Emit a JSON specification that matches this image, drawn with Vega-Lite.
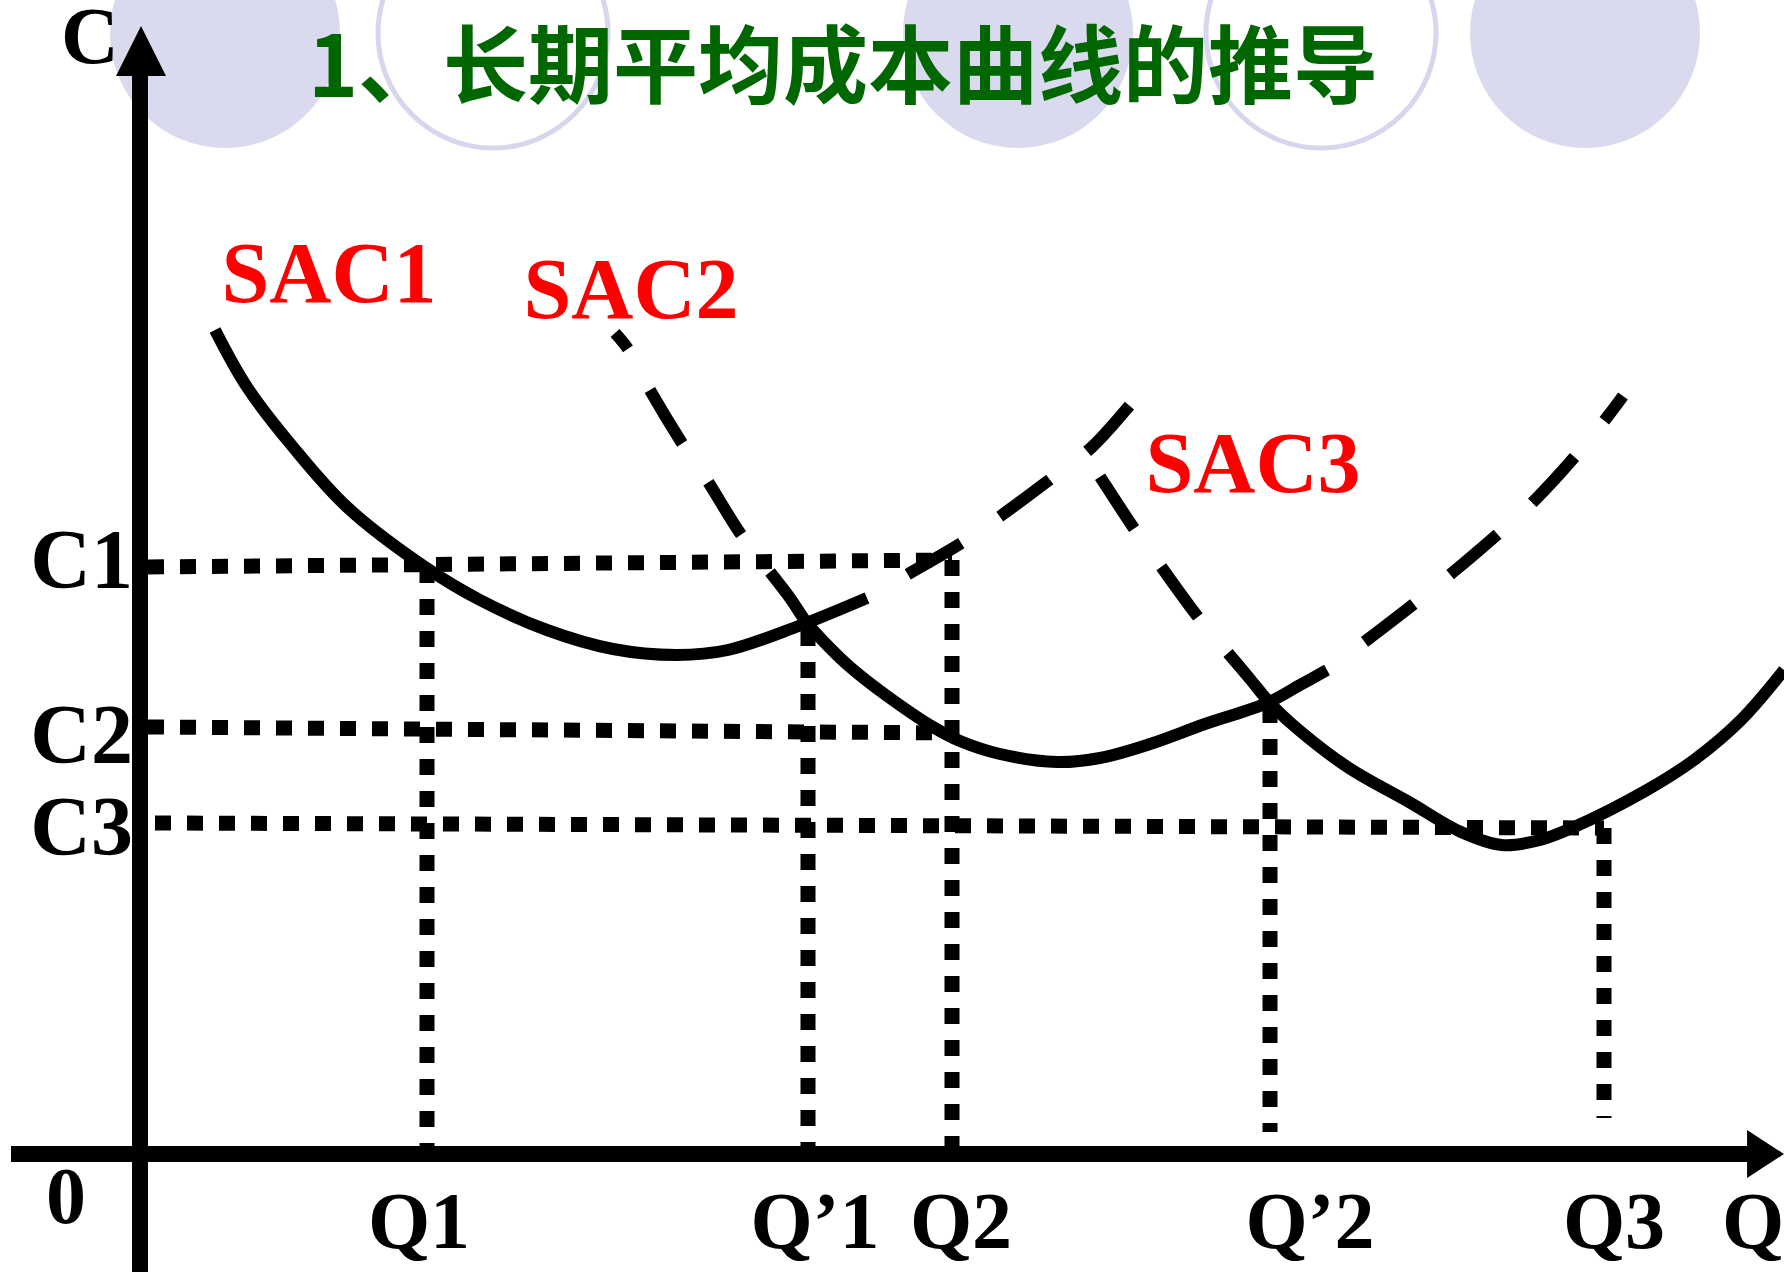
{
  "$schema": "https://vega.github.io/schema/vega-lite/v6.json",
  "autosize": {"type": "none"},
  "width": 1784,
  "height": 1272,
  "padding": 0,
  "background": "white",
  "config": {"view": {"stroke": null}},
  "datasets": {
    "circles_filled": [
      {"q": 8.5, "c": 112.1},
      {"q": 87.8, "c": 112.1},
      {"q": 144.5, "c": 112.1}
    ],
    "circles_outline": [
      {"q": 35.3, "c": 112.1},
      {"q": 118.1, "c": 112.1}
    ],
    "title": [{"label": "1、长期平均成本曲线的推导", "q": 70.3, "c": 108.3}],
    "axes": [
      {"part": "yaxis", "i": 0, "q": 0, "c": -11.8},
      {"part": "yaxis", "i": 1, "q": 0, "c": 107.9},
      {"part": "xaxis", "i": 0, "q": -12.9, "c": 0},
      {"part": "xaxis", "i": 1, "q": 161.0, "c": 0}
    ],
    "arrow_up": [{"q": 0.1, "c": 110.3}],
    "arrow_right": [{"q": 162.0, "c": 0}],
    "guides": [
      {"g": "C1", "i": 0, "q": 0.8, "c": 58.7},
      {"g": "C1", "i": 1, "q": 81.2, "c": 59.4},
      {"g": "C2", "i": 0, "q": 0.8, "c": 42.7},
      {"g": "C2", "i": 1, "q": 81.2, "c": 42.1},
      {"g": "C3", "i": 0, "q": 1.5, "c": 33.1},
      {"g": "C3", "i": 1, "q": 146.4, "c": 32.6},
      {"g": "Q1", "i": 0, "q": 28.7, "c": 58.7},
      {"g": "Q1", "i": 1, "q": 28.7, "c": 0.8},
      {"g": "Q'1", "i": 0, "q": 66.8, "c": 52.4},
      {"g": "Q'1", "i": 1, "q": 66.8, "c": 0.8},
      {"g": "Q2", "i": 0, "q": 81.2, "c": 59.4},
      {"g": "Q2", "i": 1, "q": 81.2, "c": 0.8},
      {"g": "Q'2", "i": 0, "q": 113.0, "c": 44.7},
      {"g": "Q'2", "i": 1, "q": 113.0, "c": 2.2},
      {"g": "Q3", "i": 0, "q": 146.4, "c": 32.6},
      {"g": "Q3", "i": 1, "q": 146.4, "c": 3.6}
    ],
    "curves": [
      {"part": "SAC1 solid", "style": "solid", "i": 0, "q": 7.5, "c": 82.4},
      {"part": "SAC1 solid", "style": "solid", "i": 1, "q": 10.7, "c": 76.7},
      {"part": "SAC1 solid", "style": "solid", "i": 2, "q": 15.3, "c": 70.7},
      {"part": "SAC1 solid", "style": "solid", "i": 3, "q": 20.7, "c": 64.7},
      {"part": "SAC1 solid", "style": "solid", "i": 4, "q": 28.5, "c": 58.7},
      {"part": "SAC1 solid", "style": "solid", "i": 5, "q": 34.0, "c": 55.4},
      {"part": "SAC1 solid", "style": "solid", "i": 6, "q": 40.7, "c": 52.4},
      {"part": "SAC1 solid", "style": "solid", "i": 7, "q": 47.3, "c": 50.5},
      {"part": "SAC1 solid", "style": "solid", "i": 8, "q": 53.7, "c": 49.9},
      {"part": "SAC1 solid", "style": "solid", "i": 9, "q": 58.8, "c": 50.4},
      {"part": "SAC1 solid", "style": "solid", "i": 10, "q": 65.6, "c": 52.7},
      {"part": "SAC1 solid", "style": "solid", "i": 11, "q": 72.7, "c": 55.6},

      {"part": "SAC1 dashed", "style": "dashed", "i": 0, "q": 72.7, "c": 55.6},
      {"part": "SAC1 dashed", "style": "dashed", "i": 1, "q": 77.0, "c": 58.1},
      {"part": "SAC1 dashed", "style": "dashed", "i": 2, "q": 82.3, "c": 61.2},
      {"part": "SAC1 dashed", "style": "dashed", "i": 3, "q": 86.2, "c": 63.9},
      {"part": "SAC1 dashed", "style": "dashed", "i": 4, "q": 91.3, "c": 67.7},
      {"part": "SAC1 dashed", "style": "dashed", "i": 5, "q": 95.2, "c": 70.7},
      {"part": "SAC1 dashed", "style": "dashed", "i": 6, "q": 99.5, "c": 75.5},

      {"part": "SAC2 dashed left", "style": "dashed", "i": 0, "q": 63.0, "c": 58.2},
      {"part": "SAC2 dashed left", "style": "dashed", "i": 1, "q": 60.0, "c": 62.1},
      {"part": "SAC2 dashed left", "style": "dashed", "i": 2, "q": 56.7, "c": 67.4},
      {"part": "SAC2 dashed left", "style": "dashed", "i": 3, "q": 54.0, "c": 71.4},
      {"part": "SAC2 dashed left", "style": "dashed", "i": 4, "q": 50.7, "c": 76.9},
      {"part": "SAC2 dashed left", "style": "dashed", "i": 5, "q": 48.8, "c": 80.5},
      {"part": "SAC2 dashed left", "style": "dashed", "i": 6, "q": 47.5, "c": 82.1},

      {"part": "SAC2 solid", "style": "solid", "i": 0, "q": 63.0, "c": 58.2},
      {"part": "SAC2 solid", "style": "solid", "i": 1, "q": 65.0, "c": 55.6},
      {"part": "SAC2 solid", "style": "solid", "i": 2, "q": 66.7, "c": 53.1},
      {"part": "SAC2 solid", "style": "solid", "i": 3, "q": 69.0, "c": 50.6},
      {"part": "SAC2 solid", "style": "solid", "i": 4, "q": 71.0, "c": 48.7},
      {"part": "SAC2 solid", "style": "solid", "i": 5, "q": 74.3, "c": 46.1},
      {"part": "SAC2 solid", "style": "solid", "i": 6, "q": 79.3, "c": 42.7},
      {"part": "SAC2 solid", "style": "solid", "i": 7, "q": 82.0, "c": 41.3},
      {"part": "SAC2 solid", "style": "solid", "i": 8, "q": 86.0, "c": 40.0},
      {"part": "SAC2 solid", "style": "solid", "i": 9, "q": 91.7, "c": 39.2},
      {"part": "SAC2 solid", "style": "solid", "i": 10, "q": 96.0, "c": 39.6},
      {"part": "SAC2 solid", "style": "solid", "i": 11, "q": 101.0, "c": 41.0},
      {"part": "SAC2 solid", "style": "solid", "i": 12, "q": 106.5, "c": 43.0},
      {"part": "SAC2 solid", "style": "solid", "i": 13, "q": 112.7, "c": 45.1},
      {"part": "SAC2 solid", "style": "solid", "i": 14, "q": 116.0, "c": 46.9},
      {"part": "SAC2 solid", "style": "solid", "i": 15, "q": 118.7, "c": 48.4},

      {"part": "SAC2 dashed right", "style": "dashed", "i": 0, "q": 118.7, "c": 48.4},
      {"part": "SAC2 dashed right", "style": "dashed", "i": 1, "q": 122.3, "c": 51.1},
      {"part": "SAC2 dashed right", "style": "dashed", "i": 2, "q": 127.5, "c": 55.1},
      {"part": "SAC2 dashed right", "style": "dashed", "i": 3, "q": 131.2, "c": 58.1},
      {"part": "SAC2 dashed right", "style": "dashed", "i": 4, "q": 136.0, "c": 62.2},
      {"part": "SAC2 dashed right", "style": "dashed", "i": 5, "q": 139.5, "c": 65.4},
      {"part": "SAC2 dashed right", "style": "dashed", "i": 6, "q": 143.8, "c": 70.1},
      {"part": "SAC2 dashed right", "style": "dashed", "i": 7, "q": 146.8, "c": 73.8},
      {"part": "SAC2 dashed right", "style": "dashed", "i": 8, "q": 148.3, "c": 75.8},

      {"part": "SAC3 dashed", "style": "dashed", "i": 0, "q": 108.8, "c": 50.1},
      {"part": "SAC3 dashed", "style": "dashed", "i": 1, "q": 105.8, "c": 53.7},
      {"part": "SAC3 dashed", "style": "dashed", "i": 2, "q": 102.0, "c": 58.9},
      {"part": "SAC3 dashed", "style": "dashed", "i": 3, "q": 99.3, "c": 62.7},
      {"part": "SAC3 dashed", "style": "dashed", "i": 4, "q": 95.7, "c": 68.2},
      {"part": "SAC3 dashed", "style": "dashed", "i": 5, "q": 95.3, "c": 68.8},

      {"part": "SAC3 solid", "style": "solid", "i": 0, "q": 108.8, "c": 50.1},
      {"part": "SAC3 solid", "style": "solid", "i": 1, "q": 111.0, "c": 47.5},
      {"part": "SAC3 solid", "style": "solid", "i": 2, "q": 113.0, "c": 45.1},
      {"part": "SAC3 solid", "style": "solid", "i": 3, "q": 116.0, "c": 42.3},
      {"part": "SAC3 solid", "style": "solid", "i": 4, "q": 120.9, "c": 38.6},
      {"part": "SAC3 solid", "style": "solid", "i": 5, "q": 126.9, "c": 35.2},
      {"part": "SAC3 solid", "style": "solid", "i": 6, "q": 132.1, "c": 32.2},
      {"part": "SAC3 solid", "style": "solid", "i": 7, "q": 136.2, "c": 30.9},
      {"part": "SAC3 solid", "style": "solid", "i": 8, "q": 140.0, "c": 31.4},
      {"part": "SAC3 solid", "style": "solid", "i": 9, "q": 143.2, "c": 32.6},
      {"part": "SAC3 solid", "style": "solid", "i": 10, "q": 150.7, "c": 36.4},
      {"part": "SAC3 solid", "style": "solid", "i": 11, "q": 155.4, "c": 39.4},
      {"part": "SAC3 solid", "style": "solid", "i": 12, "q": 160.1, "c": 43.4},
      {"part": "SAC3 solid", "style": "solid", "i": 13, "q": 164.4, "c": 48.4}
    ],
    "sac_labels": [
      {"label": "SAC1", "q": 18.9, "c": 85.2},
      {"label": "SAC2", "q": 49.1, "c": 83.6},
      {"label": "SAC3", "q": 111.3, "c": 66.2}
    ],
    "labels_center": [
      {"label": "C", "q": -5.0, "c": 109.1},
      {"label": "0", "q": -7.4, "c": -6.9},
      {"label": "Q1", "q": 27.9, "c": -9.4},
      {"label": "Q’1", "q": 67.5, "c": -9.4},
      {"label": "Q2", "q": 82.1, "c": -9.4},
      {"label": "Q’2", "q": 117.0, "c": -9.4},
      {"label": "Q3", "q": 147.4, "c": -9.4}
    ],
    "labels_left": [
      {"label": "Q", "q": 158.2, "c": -9.4}
    ],
    "labels_right": [
      {"label": "C1", "q": -0.7, "c": 56.6},
      {"label": "C2", "q": -0.7, "c": 39.1},
      {"label": "C3", "q": -0.7, "c": 29.9}
    ]
  },
  "encoding": {
    "x": {"field": "q", "type": "quantitative", "axis": null, "scale": {"domain": [-14, 164.4], "nice": false, "zero": false}},
    "y": {"field": "c", "type": "quantitative", "axis": null, "scale": {"domain": [-11.8, 115.4], "nice": false, "zero": false}}
  },
  "layer": [
    {
      "data": {"name": "circles_filled"},
      "mark": {"type": "point", "shape": "circle", "filled": true, "size": 52900, "color": "#DADAEE", "opacity": 1}
    },
    {
      "data": {"name": "circles_outline"},
      "mark": {"type": "point", "shape": "circle", "filled": false, "size": 52900, "stroke": "#D6D6EC", "strokeWidth": 5, "opacity": 1}
    },
    {
      "data": {"name": "title"},
      "mark": {"type": "text", "font": "Noto Sans CJK SC", "fontWeight": "bold", "fontSize": 85, "color": "#006600", "align": "center", "baseline": "middle"},
      "encoding": {"text": {"field": "label"}}
    },
    {
      "data": {"name": "axes"},
      "mark": {"type": "line", "color": "black", "strokeWidth": 16, "strokeCap": "butt"},
      "encoding": {"detail": {"field": "part"}, "order": {"field": "i"}}
    },
    {
      "data": {"name": "arrow_up"},
      "mark": {"type": "point", "shape": "M0,-1L1,1L-1,1Z", "size": 2500, "filled": true, "color": "black", "opacity": 1}
    },
    {
      "data": {"name": "arrow_right"},
      "mark": {"type": "point", "shape": "M1,0L-0.54,-1L-0.54,1Z", "size": 2304, "filled": true, "color": "black", "opacity": 1}
    },
    {
      "data": {"name": "guides"},
      "mark": {"type": "line", "color": "black", "strokeWidth": 15, "strokeDash": [16, 16], "strokeCap": "butt"},
      "encoding": {"detail": {"field": "g"}, "order": {"field": "i"}}
    },
    {
      "data": {"name": "curves"},
      "transform": [{"filter": "datum.style === 'solid'"}],
      "mark": {"type": "line", "color": "black", "strokeWidth": 12, "interpolate": "catmull-rom", "strokeCap": "butt"},
      "encoding": {"detail": {"field": "part"}, "order": {"field": "i"}}
    },
    {
      "data": {"name": "curves"},
      "transform": [{"filter": "datum.style === 'dashed'"}],
      "mark": {"type": "line", "color": "black", "strokeWidth": 12, "interpolate": "catmull-rom", "strokeCap": "butt", "strokeDash": [62, 47], "strokeDashOffset": 62},
      "encoding": {"detail": {"field": "part"}, "order": {"field": "i"}}
    },
    {
      "data": {"name": "sac_labels"},
      "mark": {"type": "text", "font": "Liberation Serif", "fontWeight": "bold", "fontSize": 86, "color": "#FF0000", "align": "center", "baseline": "alphabetic"},
      "encoding": {"text": {"field": "label"}}
    },
    {
      "data": {"name": "labels_center"},
      "mark": {"type": "text", "font": "Liberation Serif", "fontWeight": "bold", "fontSize": 80, "color": "black", "align": "center", "baseline": "alphabetic"},
      "encoding": {"text": {"field": "label"}}
    },
    {
      "data": {"name": "labels_left"},
      "mark": {"type": "text", "font": "Liberation Serif", "fontWeight": "bold", "fontSize": 80, "color": "black", "align": "left", "baseline": "alphabetic"},
      "encoding": {"text": {"field": "label"}}
    },
    {
      "data": {"name": "labels_right"},
      "mark": {"type": "text", "font": "Liberation Serif", "fontWeight": "bold", "fontSize": 84, "color": "black", "align": "right", "baseline": "alphabetic"},
      "encoding": {"text": {"field": "label"}}
    }
  ]
}
